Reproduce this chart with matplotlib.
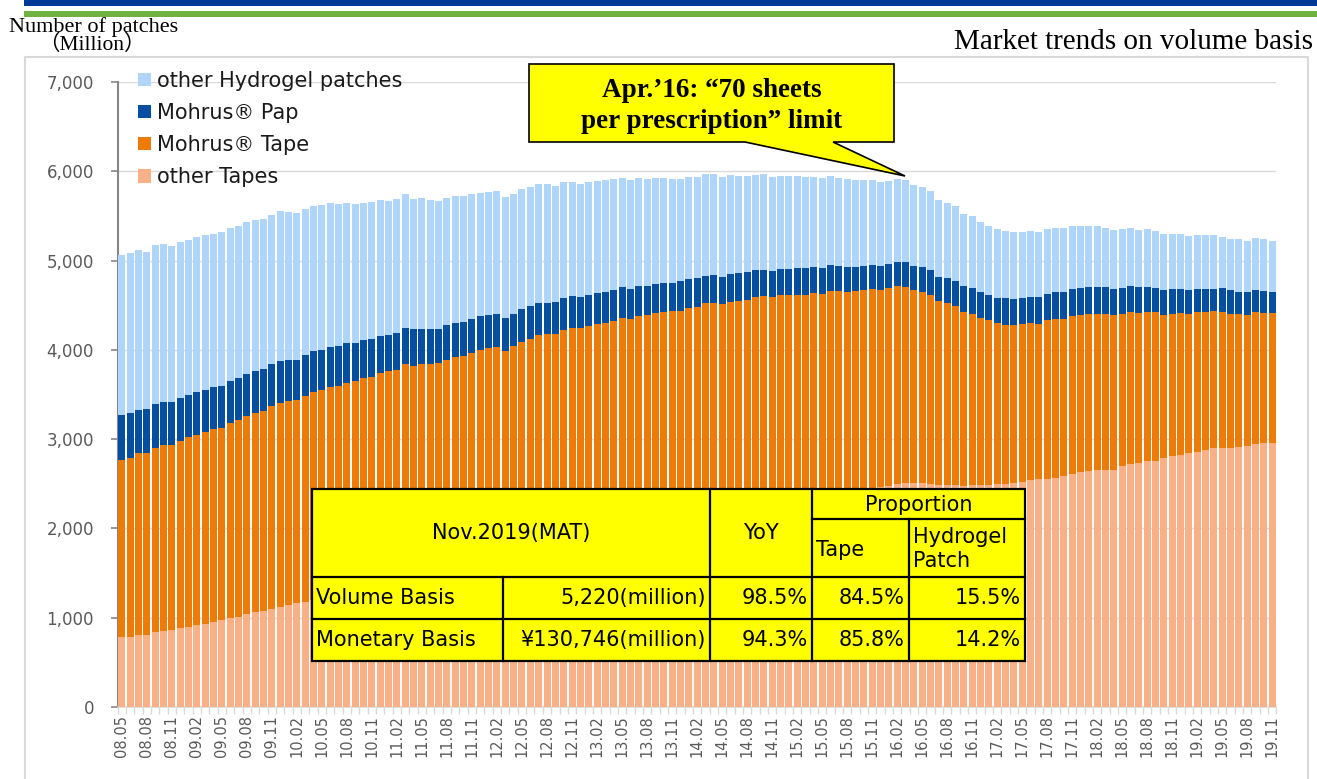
import numpy as np
import matplotlib
matplotlib.use("Agg")
import matplotlib.pyplot as plt
from matplotlib.patches import Rectangle, Polygon
from matplotlib.ticker import FixedLocator, FuncFormatter

# ---------------- data ----------------
months = []
_y, _m = 2008, 5
for _ in range(139):
    months.append(f"{_y % 100:02d}.{_m:02d}")
    _m += 1
    if _m > 12:
        _m = 1
        _y += 1

other_tapes = [
    780, 780, 810, 810, 840, 850, 860, 880, 900, 920,
    930, 950, 970, 1000, 1010, 1040, 1060, 1080, 1100, 1120,
    1140, 1160, 1180, 1200, 1220, 1240, 1260, 1280, 1300, 1320,
    1340, 1360, 1380, 1400, 1430, 1440, 1460, 1480, 1500, 1520,
    1540, 1560, 1590, 1610, 1630, 1650, 1650, 1680, 1710, 1730,
    1760, 1780, 1790, 1820, 1840, 1850, 1870, 1890, 1910, 1930,
    1960, 1960, 1990, 2010, 2030, 2050, 2070, 2090, 2120, 2140,
    2170, 2190, 2190, 2220, 2240, 2260, 2280, 2300, 2300, 2320,
    2340, 2350, 2360, 2380, 2380, 2400, 2410, 2420, 2430, 2440,
    2450, 2460, 2480, 2500, 2510, 2510, 2510, 2500, 2490, 2490,
    2490, 2480, 2490, 2490, 2490, 2500, 2500, 2510, 2520, 2540,
    2550, 2550, 2570, 2590, 2610, 2630, 2640, 2650, 2660, 2660,
    2700, 2720, 2730, 2750, 2760, 2790, 2810, 2820, 2840, 2860,
    2880, 2900, 2900, 2900, 2910, 2920, 2950, 2960, 2960]

mohrus_tape = [
    1990, 2010, 2030, 2040, 2060, 2080, 2080, 2100, 2120, 2130,
    2150, 2160, 2160, 2180, 2210, 2220, 2230, 2240, 2270, 2290,
    2290, 2280, 2300, 2330, 2330, 2340, 2340, 2350, 2350, 2360,
    2360, 2380, 2380, 2380, 2410, 2380, 2380, 2360, 2350, 2370,
    2380, 2370, 2380, 2390, 2390, 2380, 2340, 2360, 2380, 2390,
    2410, 2400, 2390, 2400, 2400, 2390, 2400, 2400, 2390, 2390,
    2400, 2390, 2390, 2380, 2380, 2370, 2360, 2350, 2350, 2340,
    2350, 2340, 2320, 2320, 2310, 2300, 2310, 2300, 2290, 2290,
    2270, 2270, 2260, 2260, 2250, 2260, 2250, 2230, 2230, 2230,
    2230, 2210, 2210, 2210, 2190, 2160, 2140, 2120, 2060, 2030,
    2000, 1940, 1910, 1870, 1840, 1800, 1780, 1770, 1770, 1760,
    1740, 1780, 1780, 1760, 1770, 1760, 1760, 1750, 1740, 1730,
    1700, 1700, 1680, 1670, 1660, 1600, 1590, 1590, 1560, 1560,
    1540, 1530, 1520, 1500, 1490, 1470, 1470, 1450, 1450]

mohrus_pap = [
    500, 500, 490, 490, 490, 490, 480, 480, 470, 480,
    470, 470, 470, 470, 470, 470, 470, 470, 470, 470,
    460, 450, 460, 460, 450, 450, 440, 450, 430, 430,
    420, 420, 410, 410, 410, 410, 390, 390, 380, 390,
    380, 380, 380, 380, 370, 370, 370, 360, 370, 370,
    350, 350, 360, 360, 360, 350, 350, 350, 350, 350,
    340, 330, 340, 330, 330, 330, 320, 330, 320, 320,
    310, 310, 310, 310, 310, 310, 300, 300, 290, 300,
    300, 300, 300, 290, 290, 290, 280, 280, 270, 270,
    270, 270, 270, 270, 280, 270, 280, 280, 270, 280,
    280, 290, 290, 290, 290, 280, 300, 290, 290, 290,
    300, 300, 300, 300, 300, 300, 300, 300, 300, 290,
    290, 290, 290, 280, 270, 280, 280, 270, 270, 260,
    260, 250, 270, 270, 250, 260, 250, 250, 240]

other_hydrogel = [
    1790, 1790, 1790, 1760, 1780, 1760, 1740, 1750, 1740, 1730,
    1740, 1720, 1720, 1710, 1700, 1700, 1690, 1670, 1670, 1670,
    1650, 1640, 1640, 1620, 1620, 1610, 1590, 1570, 1550, 1530,
    1540, 1520, 1500, 1500, 1500, 1460, 1470, 1450, 1440, 1420,
    1420, 1410, 1400, 1380, 1380, 1380, 1350, 1350, 1340, 1330,
    1340, 1330, 1300, 1300, 1280, 1270, 1260, 1250, 1250, 1240,
    1230, 1220, 1200, 1190, 1180, 1170, 1160, 1140, 1150, 1140,
    1140, 1130, 1120, 1110, 1090, 1080, 1070, 1070, 1060, 1040,
    1040, 1030, 1020, 1010, 1000, 1000, 990, 980, 970, 960,
    950, 940, 930, 930, 920, 910, 890, 880, 860, 850,
    840, 810, 810, 780, 770, 770, 750, 750, 740, 740,
    730, 720, 710, 710, 710, 700, 690, 690, 670, 660,
    660, 660, 640, 650, 640, 630, 620, 620, 610, 610,
    610, 610, 570, 570, 590, 570, 580, 580, 570]

series_names = ["other Tapes", "Mohrus\u00ae Tape", "Mohrus\u00ae Pap", "other Hydrogel patches"]
series_colors = ["#f9b087", "#ee7a07", "#054ea0", "#afd5fb"]

table_header = ["Nov.2019(MAT)", "YoY", "Proportion", "Tape", "Hydrogel\nPatch"]
table_rows = [
    ["Volume Basis", "5,220(million)", "98.5%", "84.5%", "15.5%"],
    ["Monetary Basis", "\u00a5130,746(million)", "94.3%", "85.8%", "14.2%"],
]
callout_text = "Apr.\u201916: \u201c70 sheets\nper prescription\u201d limit"

# ---------------- figure ----------------
W, H = 1317, 779
fig = plt.figure(figsize=(W / 100, H / 100), dpi=100)
fig.patch.set_facecolor("white")

# overlay in pixel coordinates for decorations
ov = fig.add_axes([0, 0, 1, 1], zorder=5)
ov.set_xlim(0, W)
ov.set_ylim(H, 0)
ov.axis("off")
ov.patch.set_alpha(0)

bg = fig.add_axes([0, 0, 1, 1], zorder=0)
bg.set_xlim(0, W)
bg.set_ylim(H, 0)
bg.axis("off")
bg.add_patch(Rectangle((24, 0), W - 24, 5.5, color="#003a96", lw=0))
bg.add_patch(Rectangle((24, 11), W - 24, 5.5, color="#6fb23f", lw=0))
bg.plot([25, 25, 1308, 1308], [H + 5, 57, 57, H + 5], color="#d9d9d9", lw=1.5)

left, right, bottom, top = 117.7, 1276.4, 707, 82
ax = fig.add_axes([left / W, 1 - bottom / H, (right - left) / W, (bottom - top) / H], zorder=2)
ax.patch.set_alpha(0)

x = np.arange(len(months))
stack = [other_tapes, mohrus_tape, mohrus_pap, other_hydrogel]
base = np.zeros(len(months))
handles = []
for vals, name, col in zip(stack, series_names, series_colors):
    v = np.array(vals, dtype=float)
    b = ax.bar(x, v, bottom=base, width=0.84, color=col, linewidth=0, label=name, zorder=3)
    handles.append(b)
    base = base + v

ax.set_xlim(-0.5, len(months) - 0.5)
ax.set_ylim(0, 7000)
ax.set_yticks(np.arange(0, 7001, 1000))
ax.yaxis.set_major_formatter(FuncFormatter(lambda v, p: f"{int(v):,}"))
ax.grid(axis="y", color="#d9d9d9", lw=1, zorder=0)
ax.set_axisbelow(True)

for s in ["top", "right"]:
    ax.spines[s].set_visible(False)
ax.spines["left"].set_color("#868686")
ax.spines["left"].set_linewidth(1.5)
ax.spines["bottom"].set_color("#d9d9d9")
ax.spines["bottom"].set_linewidth(1.2)

ax.tick_params(axis="y", direction="out", length=5, width=1.2, color="#868686",
               labelsize=12, labelcolor="#595959", pad=12)
ax.xaxis.set_major_locator(FixedLocator(x[::3]))
ax.set_xticklabels(months[::3], rotation=90)
ax.xaxis.set_minor_locator(FixedLocator(np.arange(-0.5, len(months), 1)))
ax.tick_params(axis="x", which="major", length=0, labelsize=10.5, labelcolor="#595959", pad=6)
ax.tick_params(axis="x", which="minor", length=5, width=1, color="#d9d9d9")

leg = ax.legend(handles[::-1], series_names[::-1], loc="upper left",
                bbox_to_anchor=(138 / W, 1 - 71 / H), bbox_transform=fig.transFigure,
                frameon=False, fontsize=15, handlelength=0.6, handleheight=0.6,
                handletextpad=0.3, labelspacing=0.58, borderpad=0, borderaxespad=0)
for t in leg.get_texts():
    t.set_color("#1a1a1a")

# axis titles
serif = ["Liberation Serif", "Noto Sans CJK JP", "DejaVu Serif"]
ov.text(9, 27, "Number of patches", family=serif, fontsize=16, ha="left", va="center")
ov.text(92, 45, "\uff08Million\uff09", family=serif, fontsize=15.5, ha="center", va="center")
ov.text(1313, 42, "Market trends on volume basis", family=serif, fontsize=21, ha="right", va="center")

# callout
poly = [(529, 64), (894, 64), (894, 142), (833, 142), (905, 176), (745, 142), (529, 142)]
ov.add_patch(Polygon(poly, closed=True, facecolor="#ffff00", edgecolor="black", lw=1.2))
ov.text(712, 106, callout_text, family=serif, fontsize=19.5, fontweight="bold",
        ha="center", va="center", linespacing=1.32)

# table
tx0, tx1, ty0, ty1 = 312, 1025, 489, 661
c1, c2, c3, c4 = 503, 710, 812, 909
r0, r1, r2 = 519, 577, 619
ov.add_patch(Rectangle((tx0, ty0), tx1 - tx0, ty1 - ty0, facecolor="#ffff00", edgecolor="black", lw=1.6))
lk = dict(color="black", lw=1.6)
ov.plot([tx0, tx1], [r1, r1], **lk)
ov.plot([tx0, tx1], [r2, r2], **lk)
ov.plot([c3, tx1], [r0, r0], **lk)
ov.plot([c1, c1], [r1, ty1], **lk)
ov.plot([c2, c2], [ty0, ty1], **lk)
ov.plot([c3, c3], [ty0, ty1], **lk)
ov.plot([c4, c4], [r0, ty1], **lk)

fs = 15
tk = dict(fontsize=fs, color="black", va="center")
ov.text((tx0 + c2) / 2, (ty0 + r1) / 2, table_header[0], ha="center", **tk)
ov.text((c2 + c3) / 2, (ty0 + r1) / 2, table_header[1], ha="center", **tk)
ov.text((c3 + tx1) / 2, (ty0 + r0) / 2 + 1, table_header[2], ha="center", **tk)
ov.text(c3 + 4, (r0 + r1) / 2 + 2, table_header[3], ha="left", **tk)
ov.text(c4 + 4, (r0 + r1) / 2 + 1, table_header[4], ha="left", linespacing=1.3, **tk)
for row, yc in zip(table_rows, [(r1 + r2) / 2, (r2 + ty1) / 2]):
    ov.text(tx0 + 4, yc, row[0], ha="left", **tk)
    ov.text(c2 - 4, yc, row[1], ha="right", **tk)
    ov.text(c3 - 4, yc, row[2], ha="right", **tk)
    ov.text(c4 - 4, yc, row[3], ha="right", **tk)
    ov.text(tx1 - 4, yc, row[4], ha="right", **tk)

fig.savefig("out.png", dpi=100)
